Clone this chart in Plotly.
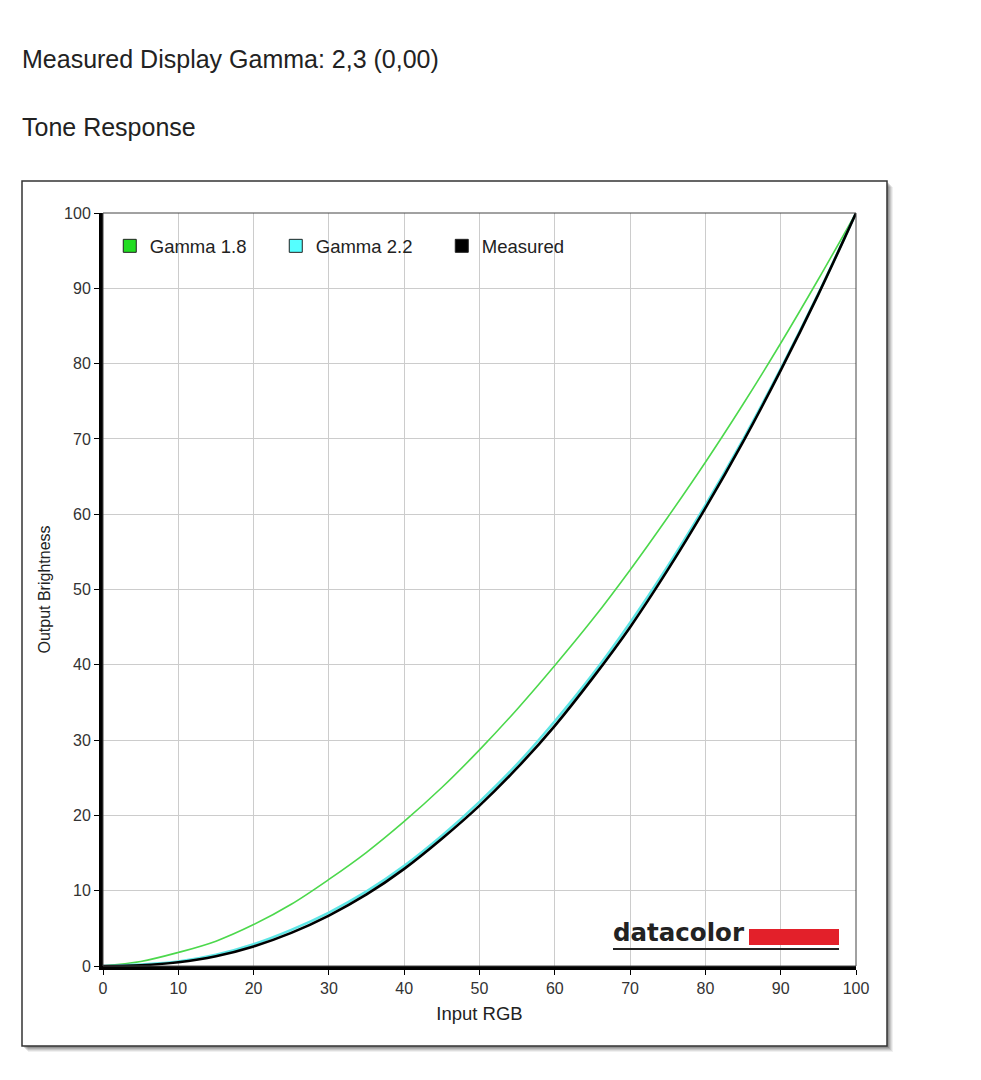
import plotly.graph_objects as go

# input RGB levels and the three tone curves
entrada = [0, 5, 10, 15, 20, 25, 30, 35, 40, 45, 50, 55, 60, 65, 70, 75, 80, 85, 90, 95, 100]
gamma_18 = [0, 0.6, 1.8, 3.3, 5.5, 8.2, 11.5, 15.1, 19.2, 23.7, 28.7, 34.1, 39.9, 46.0, 52.6,
            59.6, 66.9, 74.6, 82.7, 91.2, 100]
gamma_22 = [0, 0.2, 0.6, 1.5, 2.9, 4.8, 7.1, 9.9, 13.3, 17.3, 21.8, 26.8, 32.5, 38.7, 45.6,
            53.1, 61.2, 69.9, 79.3, 89.3, 100]
medido = [0, 0.1, 0.5, 1.3, 2.6, 4.4, 6.7, 9.5, 12.9, 16.9, 21.3, 26.3, 31.9, 38.2, 45.0,
          52.6, 60.8, 69.6, 79.1, 89.2, 100]
ticks = [0, 10, 20, 30, 40, 50, 60, 70, 80, 90, 100]

FUENTE = "Arial, Liberation Sans, sans-serif"
W, H = 965, 1064
L, R, T, B = 95, 117, 205, 106
PW, PH = W - L - R, H - T - B


def px(x):
    # pixel (paper) -> fraccion de paper
    return (x - L) / PW


def py(y):
    return (H - B - y) / PH


fig = go.Figure()

series = [
    ("Gamma 1.8", gamma_18, "#4cd84c", 1.6, "#22dd22"),
    ("Gamma 2.2", gamma_22, "#5ee6e6", 2.6, "#55ffff"),
    ("Measured", medido, "#000000", 2.6, "#000000"),
]
for nombre, vals, color, ancho, _ in series:
    fig.add_trace(go.Scatter(x=entrada, y=vals, mode="lines", name=nombre,
                             line=dict(color=color, width=ancho, shape="spline"),
                             showlegend=False))
# entradas de leyenda con cuadrado
for nombre, _, _, _, relleno in series:
    fig.add_trace(go.Scatter(x=[None], y=[None], mode="markers", name=nombre,
                             marker=dict(symbol="square", size=13, color=relleno,
                                         line=dict(color="#222", width=1))))

shapes = []
# sombra del marco
for d, a in [(6, 0.06), (5, 0.08), (4, 0.1), (3, 0.12), (2, 0.15)]:
    shapes.append(dict(type="rect", xref="paper", yref="paper", layer="below",
                       x0=px(14 + d), x1=px(879 + d), y0=py(1038 + d), y1=py(173 + d),
                       line=dict(width=0), fillcolor=f"rgba(0,0,0,{a})"))
shapes.append(dict(type="rect", xref="paper", yref="paper", layer="below",
                   x0=px(14), x1=px(879), y0=py(1038), y1=py(173),
                   line=dict(color="#333", width=1.5), fillcolor="white"))
# borde fino arriba/derecha del area
shapes.append(dict(type="rect", xref="paper", yref="paper", layer="above",
                   x0=0, x1=1, y0=0, y1=1, line=dict(color="#444", width=1)))
# logo datacolor
shapes.append(dict(type="rect", xref="paper", yref="paper", layer="above",
                   x0=px(741), x1=px(831), y0=py(937), y1=py(921),
                   line=dict(width=0), fillcolor="#e3202a"))
shapes.append(dict(type="line", xref="paper", yref="paper", layer="above",
                   x0=px(605), x1=px(831), y0=py(941), y1=py(941),
                   line=dict(color="#222", width=2)))

annotations = [
    dict(text="Measured Display Gamma: 2,3 (0,00)", xref="paper", yref="paper",
         x=px(12), y=py(51.5), xanchor="left", yanchor="middle", showarrow=False,
         font=dict(family=FUENTE, size=25, color="#222")),
    dict(text="Tone Response", xref="paper", yref="paper",
         x=px(12), y=py(119), xanchor="left", yanchor="middle", showarrow=False,
         font=dict(family=FUENTE, size=25, color="#222")),
    dict(text="<b>datacolor</b>", xref="paper", yref="paper",
         x=px(603), y=py(941), xanchor="left", yanchor="bottom", showarrow=False,
         font=dict(family="DejaVu Sans", size=24.5, color="#222")),
]

fig.update_layout(
    width=W, height=H,
    margin=dict(l=L, r=R, t=T, b=B),
    paper_bgcolor="white", plot_bgcolor="white",
    font=dict(family=FUENTE, size=16, color="#333"),
    shapes=shapes, annotations=annotations,
    legend=dict(orientation="h", x=0.009, y=0.981, xanchor="left", yanchor="top",
                bgcolor="rgba(0,0,0,0)", font=dict(size=18.5, color="#222"),
                entrywidth=121, entrywidthmode="pixels", traceorder="normal"),
    xaxis=dict(range=[0, 100], tickvals=ticks, showgrid=True, gridcolor="#cccccc",
               gridwidth=1, zeroline=False, showline=True, linecolor="black", linewidth=4,
               ticks="outside", ticklen=5, tickcolor="black",
               title=dict(text="Input RGB", font=dict(size=18.5, color="#222"), standoff=12)),
    yaxis=dict(range=[0, 100], tickvals=ticks, showgrid=True, gridcolor="#cccccc",
               gridwidth=1, zeroline=False, showline=True, linecolor="black", linewidth=4,
               ticks="outside", ticklen=5, tickcolor="black",
               title=dict(text="Output Brightness", font=dict(size=16, color="#222"), standoff=10)),
)

fig.write_html("out.html")
